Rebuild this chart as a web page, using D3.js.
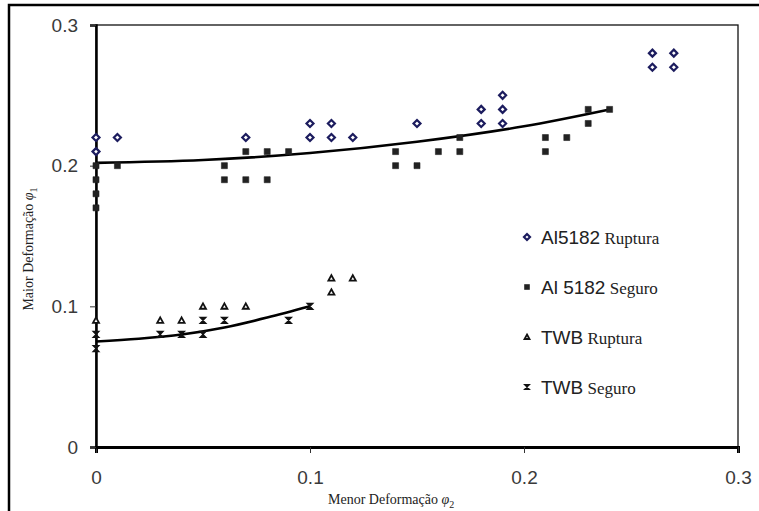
<!DOCTYPE html>
<html>
<head>
<meta charset="utf-8">
<script src="https://cdn.jsdelivr.net/npm/d3@7"></script>
<style>
  body { margin: 0; background: #fff; }
  svg { display: block; }
</style>
</head>
<body>
<div id="chart"></div>
<script>
// values: [menor phi2, maior phi1]
const alRuptura = [
  [0, 0.22], [0, 0.21], [0.01, 0.22], [0.07, 0.22], [0.1, 0.23], [0.1, 0.22],
  [0.11, 0.23], [0.11, 0.22], [0.12, 0.22], [0.15, 0.23], [0.18, 0.24], [0.18, 0.23],
  [0.19, 0.25], [0.19, 0.24], [0.19, 0.23], [0.26, 0.28], [0.26, 0.27], [0.27, 0.28], [0.27, 0.27]
];
const alSeguro = [
  [0, 0.2], [0, 0.19], [0, 0.18], [0, 0.17], [0.01, 0.2], [0.06, 0.2], [0.06, 0.19],
  [0.07, 0.21], [0.07, 0.19], [0.08, 0.21], [0.08, 0.19], [0.09, 0.21],
  [0.14, 0.21], [0.14, 0.2], [0.15, 0.2], [0.16, 0.21], [0.17, 0.22], [0.17, 0.21],
  [0.21, 0.22], [0.21, 0.21], [0.22, 0.22], [0.23, 0.24], [0.23, 0.23], [0.24, 0.24]
];
const twbRuptura = [
  [0, 0.09], [0.03, 0.09], [0.04, 0.09], [0.05, 0.1], [0.06, 0.1], [0.07, 0.1],
  [0.11, 0.12], [0.11, 0.11], [0.12, 0.12]
];
const twbSeguro = [
  [0, 0.08], [0, 0.07], [0.03, 0.08], [0.04, 0.08], [0.05, 0.09], [0.05, 0.08],
  [0.06, 0.09], [0.09, 0.09], [0.1, 0.1]
];
// trend curves, points
const alTrend = [[0, 0.202], [0.05, 0.204], [0.1, 0.209], [0.15, 0.217], [0.2, 0.228], [0.24, 0.24]];
const twbTrend = [[0, 0.075], [0.02, 0.077], [0.04, 0.08], [0.06, 0.085], [0.08, 0.092], [0.1, 0.1]];

const xTicks = [0, 0.1, 0.2, 0.3];
const yTicks = [0, 0.1, 0.2, 0.3];
const legendNames = [
  ['Al5182', ' Ruptura'], ['Al 5182', ' Seguro'], ['TWB', ' Ruptura'], ['TWB', ' Seguro']
];

const width = 759, height = 511;
const plotLeft = 96, plotRight = 738, plotTop = 25, plotBottom = 447;

const svg = d3.select('#chart').append('svg')
  .attr('width', width).attr('height', height);

// outer frame (left and top edges visible)
svg.append('path')
  .attr('d', 'M9,' + height + 'V5H' + width)
  .attr('fill', 'none').attr('stroke', '#000').attr('stroke-width', 2.5);

const x = d3.scaleLinear().domain([0, 0.3]).range([plotLeft, plotRight]);
const y = d3.scaleLinear().domain([0, 0.3]).range([plotBottom, plotTop]);

// plot frame
svg.append('rect')
  .attr('x', plotLeft).attr('y', plotTop)
  .attr('width', plotRight - plotLeft).attr('height', plotBottom - plotTop)
  .attr('fill', 'none').attr('stroke', '#111').attr('stroke-width', 1.3);

const fmt = (d) => d === 0 ? '0' : String(d);

const xAxis = svg.append('g')
  .attr('transform', 'translate(0,' + plotBottom + ')')
  .call(d3.axisBottom(x).tickValues(xTicks).tickFormat(fmt).tickSize(6).tickPadding(18));
xAxis.select('.domain').attr('stroke', '#000').attr('stroke-width', 3);

const yAxis = svg.append('g')
  .attr('transform', 'translate(' + plotLeft + ',0)')
  .call(d3.axisLeft(y).tickValues(yTicks).tickFormat(fmt).tickSize(6).tickPadding(12));
yAxis.select('.domain').attr('stroke', '#000').attr('stroke-width', 2.5);
svg.selectAll('.tick line').attr('stroke', '#333');
svg.selectAll('.tick text')
  .style('font-family', 'Arial, "Liberation Sans", sans-serif')
  .style('font-size', '19px')
  .attr('fill', '#3a3a3a');

// axis titles
const title = svg.append('text')
  .attr('x', 328).attr('y', 504)
  .style('font-family', '"Times New Roman", "Liberation Serif", serif')
  .style('font-size', '14px').attr('fill', '#222');
title.append('tspan').text('Menor Deformação ');
title.append('tspan').style('font-style', 'italic').text('φ');
title.append('tspan').attr('dy', 4).style('font-size', '10px').text('2');

const ytitle = svg.append('text')
  .attr('transform', 'translate(33,249) rotate(-90)')
  .attr('text-anchor', 'middle')
  .style('font-family', '"Times New Roman", "Liberation Serif", serif')
  .style('font-size', '14px').attr('fill', '#222');
ytitle.append('tspan').text('Maior Deformação ');
ytitle.append('tspan').style('font-style', 'italic').text('φ');
ytitle.append('tspan').attr('dy', 4).style('font-size', '10px').text('1');

// trend lines
const line = d3.line().x((d) => x(d[0])).y((d) => y(d[1])).curve(d3.curveMonotoneX);
[alTrend, twbTrend].forEach((t) => {
  svg.append('path').attr('d', line(t))
    .attr('fill', 'none').attr('stroke', '#000').attr('stroke-width', 2.6);
});

// marker shapes
const diamond = (s) => {
  const h = s / 2;
  return 'M0,' + (-h) + 'L' + h + ',0L0,' + h + 'L' + (-h) + ',0Z';
};
const hourglass = (s) => {
  const h = s / 2;
  return 'M' + (-h) + ',' + (-h) + 'H' + h + 'L' + (-h) + ',' + h + 'H' + h + 'Z';
};
const triangle = (s) => {
  const h = s / 2;
  return 'M0,' + (-h) + 'L' + h + ',' + (h * 0.8) + 'H' + (-h) + 'Z';
};
const square = (s) => {
  const h = s / 2;
  return 'M' + (-h) + ',' + (-h) + 'H' + h + 'V' + h + 'H' + (-h) + 'Z';
};

const markers = [
  { data: alRuptura, shape: diamond, size: 7, fill: '#fff', stroke: '#1c1c5e', sw: 2.2 },
  { data: alSeguro, shape: square, size: 6, fill: '#222', stroke: '#222', sw: 0.6 },
  { data: twbRuptura, shape: triangle, size: 6, fill: '#fff', stroke: '#111', sw: 1.8 },
  { data: twbSeguro, shape: hourglass, size: 6, fill: '#111', stroke: '#111', sw: 1.2 }
];

markers.forEach((m) => {
  svg.append('g').selectAll('path')
    .data(m.data).enter().append('path')
    .attr('transform', (d) => 'translate(' + x(d[0]) + ',' + y(d[1]) + ')')
    .attr('d', m.shape(m.size))
    .attr('fill', m.fill).attr('stroke', m.stroke).attr('stroke-width', m.sw);
});

// legend
const legend = svg.append('g');
legendNames.forEach((n, i) => {
  const m = markers[i];
  const ly = 237 + i * 50;
  legend.append('path')
    .attr('transform', 'translate(527,' + ly + ')')
    .attr('d', m.shape(m.size - 1))
    .attr('fill', m.fill).attr('stroke', m.stroke).attr('stroke-width', m.sw);
  const t = legend.append('text').attr('x', 541).attr('y', ly + 7).attr('fill', '#222');
  t.append('tspan').style('font-family', 'Arial, "Liberation Sans", sans-serif')
    .style('font-size', '19px').text(n[0]);
  t.append('tspan').style('font-family', '"Times New Roman", "Liberation Serif", serif')
    .style('font-size', '17px').text(n[1]);
});
</script>
</body>
</html>
